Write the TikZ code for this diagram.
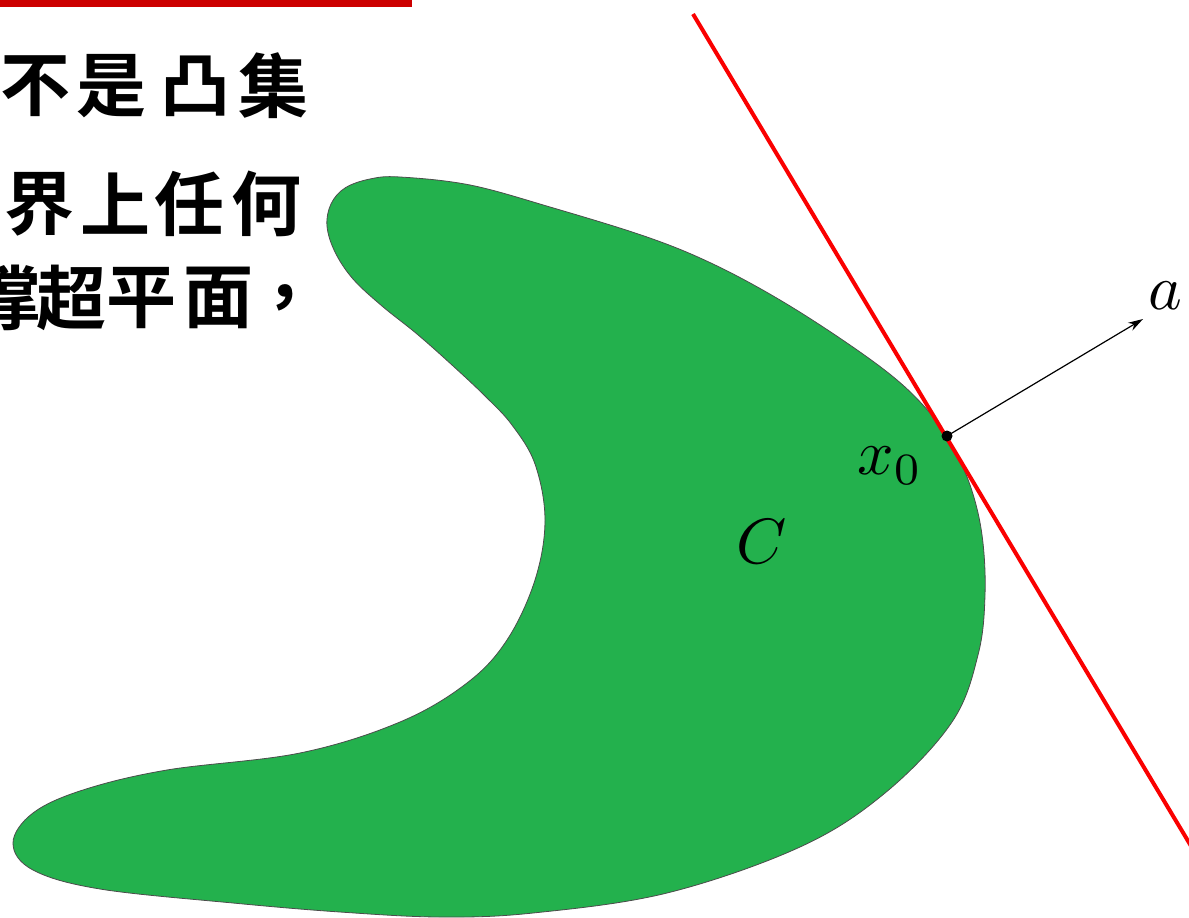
\documentclass[tikz,border=0pt]{standalone}
\usepackage{fontspec}
\newfontfamily\cjk{Noto Sans CJK SC}[BoldFont={* Bold}]
\usetikzlibrary{arrows.meta}
\definecolor{shapegreen}{RGB}{35,177,77}
\definecolor{barred}{RGB}{204,0,0}
\definecolor{linered}{RGB}{250,0,0}
\tikzset{
  hanzi/.style={font=\cjk\bfseries\fontsize{70}{70}\selectfont, inner sep=0pt},
  mathlabel/.style={inner sep=0pt},
}
\newcommand{\biglabel}[1]{\scalebox{6.4}{$#1$}}
\begin{document}
\begin{tikzpicture}[x=1pt,y=-1pt]
\useasboundingbox (0,0) rectangle (1189,918);
\clip (0,0) rectangle (1189,918);
\fill[white] (0,0) rectangle (1189,918);
% top bar
\fill[barred] (0,0) rectangle (412,7);
% text
\node[hanzi] (t1a) at (36,86) {不};
\node[hanzi] (t1b) at (111,86) {是};
\node[hanzi] (t1c) at (195,86) {凸};
\node[hanzi] (t1d) at (273,86) {集};
\node[hanzi] (t2a) at (40,204) {界};
\node[hanzi] (t2b) at (115,204) {上};
\node[hanzi] (t2c) at (189,204) {任};
\node[hanzi] (t2d) at (266,204) {何};
\node[hanzi] (t3a) at (6,298) {撑};
\node[hanzi] (t3b) at (71,298) {超};
\node[hanzi] (t3c) at (141,298) {平};
\node[hanzi] (t3d) at (218,298) {面};
\node[hanzi] (t3e) at (300,298) {，};
% set C
\draw[fill=shapegreen, draw=black!70, line width=0.8pt]
  plot[smooth cycle, tension=0.6] coordinates {
  (400,177) (470,185) (550,207) (647,237) (713,264) (780,300) (847,343)
  (897,380) (930,413) (950,442) (970,485) (982,535) (985,595) (978,655)
  (952,722) (885,793) (800,847) (667,893) (533,913) (440,917) (340,912)
  (233,903) (100,889) (33,870) (13,843) (33,813) (83,790) (167,770)
  (300,753) (400,722) (467,683) (507,640) (535,580) (545,520) (535,464)
  (512,425) (485,396) (452,365) (417,334) (382,306) (353,279) (335,252)
  (327,226) (331,204) (345,188) (370,179)};
% hyperplane
\coordinate (hA) at (693,14);
\coordinate (x0) at (947,436);
\coordinate (hB) at (1197,856);
\draw[linered, line width=4pt] (hA) -- (hB);
% normal vector
\coordinate (atip) at (1143,319);
\draw[line width=1.2pt, -{Stealth[length=15pt,width=9pt]}] (x0) -- (atip);
\fill (x0) circle (5.5);
% labels
\node[mathlabel] (lx0) at (890,466) {\biglabel{x_0}};
\node[mathlabel] (lC) at (762,542) {\biglabel{C}};
\node[mathlabel] (la) at (1165,296) {\biglabel{a}};
\end{tikzpicture}
\end{document}
